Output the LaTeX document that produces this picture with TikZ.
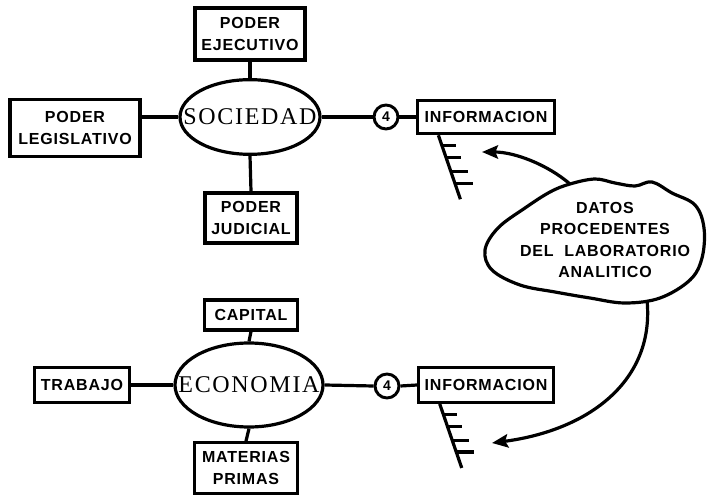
\documentclass[tikz,border=0pt]{standalone}
\usepackage{fontspec}
\setmainfont{Liberation Sans}
\newfontfamily\cajafont[LetterSpace=5]{Liberation Sans}
\newfontfamily\ovalofont[LetterSpace=7]{Liberation Serif}
\usetikzlibrary{arrows.meta,shapes.geometric,calc}

\begin{document}
\begin{tikzpicture}[x=0.75pt,y=0.75pt,yscale=-1,xscale=1,
    caja/.style={draw,line width=2.4pt,align=center,inner sep=0pt,font=\cajafont\bfseries\fontsize{12}{16}\selectfont},
    ovalo/.style={draw,ellipse,line width=2.4pt,inner sep=0pt,font=\ovalofont\fontsize{18}{20}\selectfont},
    circulo/.style={draw,circle,line width=2.2pt,minimum size=18pt,inner sep=0pt,font=\bfseries\fontsize{10.5}{12}\selectfont},
    enlace/.style={line width=2.4pt},
    flecha/.style={line width=2.4pt,-{Stealth[length=12pt,width=10pt,inset=2pt]}}]
    \useasboundingbox (0,0) rectangle (707,495);

    % Sociedad
    \node [ovalo,minimum width=105pt,minimum height=56pt] (soc) at (250,117) {\makebox[0pt]{SOCIEDAD}};
    \node [caja,minimum width=82.5pt,minimum height=39pt] (ejec) at (250,34) {PODER\\EJECUTIVO};
    \node [caja,minimum width=97.5pt,minimum height=43pt] (legis) at (75,128) {PODER\\LEGISLATIVO};
    \node [caja,minimum width=69pt,minimum height=37.5pt] (judi) at (251,218) {PODER\\JUDICIAL};
    \node [circulo] (num1) at (386,117) {4};
    \node [caja,minimum width=103pt,minimum height=25pt] (info1) at (486,117) {INFORMACION};

    \draw [enlace] (ejec.south) -- (soc.north);
    \draw [enlace] (soc.south) -- (judi.north);
    \draw [enlace] (soc.west) -- (soc.west -| legis.east);
    \draw [enlace] (soc.east) -- (num1.west);
    \draw [enlace] (num1.east) -- (info1.west);

    % Economia
    \node [ovalo,minimum width=111pt,minimum height=63pt] (eco) at (249,385) {\makebox[0pt]{ECONOMIA}};
    \node [caja,minimum width=70pt,minimum height=22.5pt] (capital) at (251,315) {CAPITAL};
    \node [caja,minimum width=71pt,minimum height=26pt] (trabajo) at (82,385) {TRABAJO};
    \node [caja,minimum width=77pt,minimum height=38pt] (materias) at (246,468) {MATERIAS\\PRIMAS};
    \node [circulo] (num2) at (387,386) {4};
    \node [caja,minimum width=101pt,minimum height=26pt] (info2) at (486,385) {INFORMACION};

    \draw [enlace] (capital.south) -- (eco.north);
    \draw [enlace] (eco.south) -- (materias.north);
    \draw [enlace] (eco.west) -- (trabajo.east);
    \draw [enlace] (eco.east) -- (num2.west);
    \draw [enlace] (num2.east) -- (info2.west);

    % peines bajo INFORMACION
    \foreach \n in {1,2} {
        \draw [enlace] ([xshift=17pt]info\n.south west) coordinate (a\n) -- ++(22,64) coordinate (b\n);
        \foreach \t/\l in {0.16/14,0.35/15,0.57/17,0.75/18}
            \draw [enlace] ($(a\n)!\t!(b\n)$) -- ++(\l,0);
    }

    % Nube
    \draw [enlace] plot [smooth cycle,tension=0.6] coordinates {(570,184) (595,179) (615,183) (635,186) (652,182) (672,193) (695,205) (704,228) (702,258) (690,280) (660,298) (625,303) (590,298) (555,292) (520,285) (492,270) (485,250) (498,228) (525,208) (550,192)};
    \node [caja,draw=none] (datos) at (605,240) {DATOS\\PROCEDENTES\\DEL\hspace{8pt}LABORATORIO\\ANALITICO};
    \coordinate (nube1) at (570,184);
    \coordinate (nube2) at (647,300);
    \coordinate (punta1) at (482,152);
    \coordinate (punta2) at (492,443);

    \draw [flecha] (nube1) .. controls (548,165) and (515,152) .. (punta1);
    \draw [flecha] (nube2) .. controls (655,380) and (590,430) .. (punta2);
\end{tikzpicture}
\end{document}
